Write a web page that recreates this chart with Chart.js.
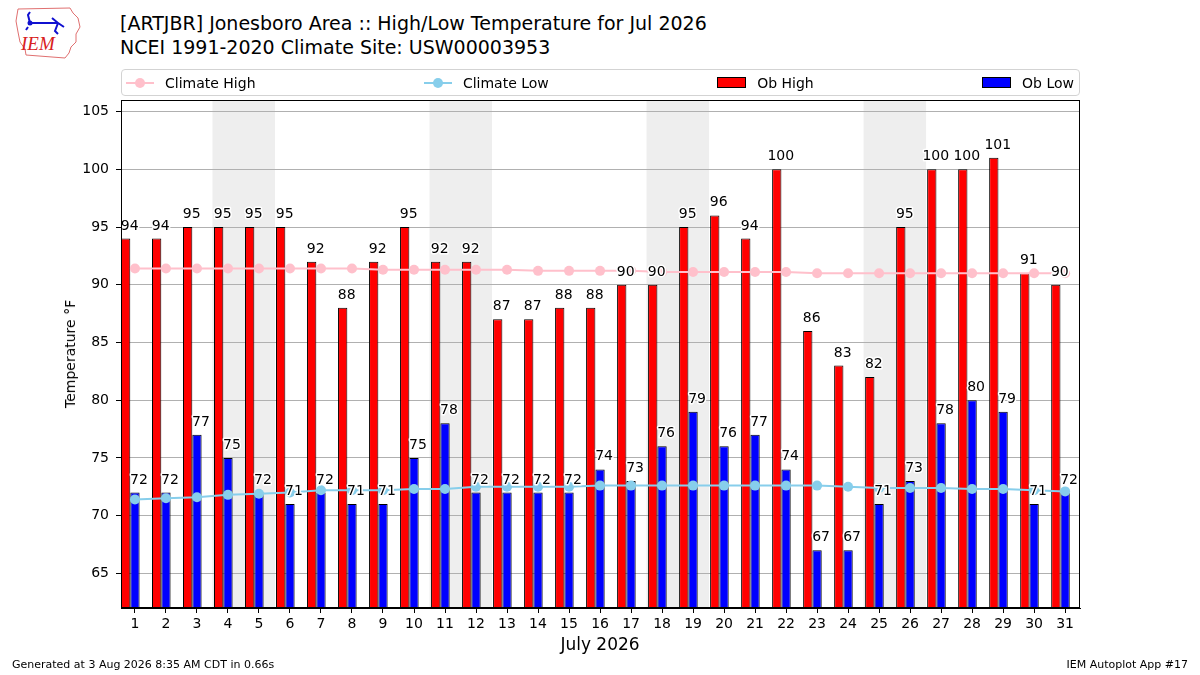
<!DOCTYPE html>
<html>
<head>
<meta charset="utf-8">
<script src="https://cdn.jsdelivr.net/npm/chart.js@4.4.1/dist/chart.umd.min.js"></script>
<style>
  body { margin: 0; width: 1200px; height: 675px; position: relative; background: #fff; overflow: hidden;
         font-family: "DejaVu Sans", sans-serif; color: #000; }
  #wrap { position: absolute; left: 0; top: 0; width: 1200px; height: 675px; }
  .title { position: absolute; left: 120px; font-size: 19px; white-space: nowrap; line-height: 23px; }
  #legend { position: absolute; left: 121px; top: 69px; width: 959px; height: 27px; box-sizing: border-box;
            border: 1px solid #d3d3d3; border-radius: 4px; display: flex; align-items: center;
            justify-content: space-between; padding: 0 5px 0 4px; font-size: 14px; }
  .item { display: flex; align-items: center; white-space: nowrap; }
  .lmark { position: relative; width: 28px; height: 12px; margin-right: 11px; }
  .lmark .ln { position: absolute; left: 0; right: 0; top: 5px; height: 2px; }
  .lmark .dot { position: absolute; left: 9px; top: 1px; width: 10px; height: 10px; border-radius: 50%; }
  .patch { width: 27px; height: 9px; border: 1px solid #000; margin-right: 11px; }
  #ytitle { position: absolute; left: 70px; top: 354px; font-size: 14px; white-space: nowrap;
            transform: translate(-50%, -50%) rotate(-90deg); }
  #xtitle { position: absolute; left: 600px; top: 644px; font-size: 17px; transform: translate(-50%, -50%); }
  .foot { position: absolute; top: 658px; font-size: 11px; white-space: nowrap; }
</style>
</head>
<body>
<svg style="position:absolute;left:6px;top:3px" width="80" height="60">
  <path d="M12 6 L64 5 L67 10 L72 15 L74 24 L70 31 L70 39 L65 44 L63 50 L59 55 L20 52 L19 46 L14 39 L12 29 L10 18 Z"
        fill="none" stroke="#e07070" stroke-width="1"/>
  <path d="M24 20 L52 20 L58 24 M24 20 L22 12 L24 9 M46 15 L52 20 L49 28 L52 31 M22 24 L20 27" fill="none"
        stroke="#1010d0" stroke-width="2"/>
  <circle cx="24" cy="20" r="2.5" fill="#1010d0"/>
  <text x="15" y="47" font-family="Liberation Serif" font-style="italic" font-size="19" fill="#d82020">IEM</text>
</svg>
<div class="title" style="top:12px">[ARTJBR] Jonesboro Area :: High/Low Temperature for Jul 2026</div>
<div class="title" style="top:36px">NCEI 1991-2020 Climate Site: USW00003953</div>
<div id="wrap"><canvas id="chart" width="1200" height="675"></canvas></div>
<div id="legend">
  <div class="item"><span class="lmark"><span class="ln" style="background:#ffc0cb"></span><span class="dot" style="background:#ffc0cb"></span></span>Climate High</div>
  <div class="item"><span class="lmark"><span class="ln" style="background:#87ceeb"></span><span class="dot" style="background:#87ceeb"></span></span>Climate Low</div>
  <div class="item"><span class="patch" style="background:#ff0000"></span>Ob High</div>
  <div class="item"><span class="patch" style="background:#0000ff"></span>Ob Low</div>
</div>
<div id="ytitle">Temperature °F</div>
<div id="xtitle">July 2026</div>
<div class="foot" style="left:12px">Generated at 3 Aug 2026 8:35 AM CDT in 0.66s</div>
<div class="foot" style="right:12px">IEM Autoplot App #17</div>

<script>
const days = [1,2,3,4,5,6,7,8,9,10,11,12,13,14,15,16,17,18,19,20,21,22,23,24,25,26,27,28,29,30,31];
const obHigh = [94,94,95,95,95,95,92,88,92,95,92,92,87,87,88,88,90,90,95,96,94,100,86,83,82,95,100,100,101,91,90];
const obLow = [72,72,77,75,72,71,72,71,71,75,78,72,72,72,72,74,73,76,79,76,77,74,67,67,71,73,78,80,79,71,72];
const climateHigh = [91.4,91.4,91.4,91.4,91.4,91.4,91.4,91.4,91.3,91.3,91.3,91.3,91.3,91.2,91.2,91.2,
                     91.2,91.1,91.1,91.1,91.1,91.1,91.0,91.0,91.0,91.0,91.0,91.0,91.0,91.0,91.0];
const climateLow = [71.4,71.5,71.6,71.8,71.9,72.0,72.2,72.2,72.2,72.3,72.3,72.5,72.5,72.5,72.5,72.6,
                    72.6,72.6,72.6,72.6,72.6,72.6,72.6,72.5,72.4,72.4,72.4,72.3,72.3,72.2,72.1];
const yTicks = [65,70,75,80,85,90,95,100,105];

// bar pair sits a bit left of the day tick, like the original
const barShift = 0.15;
const weekendDays = days.filter(d => [0, 6].includes(new Date(2026, 6, d).getDay()));

const shading = {
  id: 'shading',
  beforeDraw(chart) {
    const {ctx, chartArea: a, scales: {x}} = chart;
    ctx.save();
    ctx.fillStyle = '#eeeeee';
    weekendDays.forEach(d => {
      const x0 = x.getPixelForValue(d - 0.5), x1 = x.getPixelForValue(d + 0.5);
      ctx.fillRect(x0, a.top, x1 - x0 + 0.5, a.bottom - a.top);
    });
    ctx.restore();
  }
};

const barLabels = {
  id: 'barLabels',
  afterDatasetsDraw(chart) {
    const ctx = chart.ctx;
    ctx.save();
    ctx.font = '14px "DejaVu Sans"';
    ctx.textAlign = 'center';
    ctx.textBaseline = 'alphabetic';
    ctx.lineJoin = 'round';
    [2, 3].forEach(di => {
      const ds = chart.data.datasets[di];
      chart.getDatasetMeta(di).data.forEach((bar, i) => {
        const txt = String(ds.data[i].y);
        const tx = bar.x + 4, ty = bar.y - 9;
        ctx.strokeStyle = '#fff';
        ctx.lineWidth = 3;
        ctx.strokeText(txt, tx, ty);
        ctx.fillStyle = '#000';
        ctx.fillText(txt, tx, ty);
      });
    });
    ctx.restore();
  },
  afterDraw(chart) {
    const {ctx, chartArea: a} = chart;
    ctx.save();
    ctx.strokeStyle = '#000';
    ctx.lineWidth = 1;
    ctx.strokeRect(Math.round(a.left) + 0.5, Math.round(a.top) + 0.5,
                   Math.round(a.right - a.left) - 1, Math.round(a.bottom - a.top) - 1);
    ctx.restore();
  }
};

new Chart(document.getElementById('chart'), {
  data: {
    datasets: [
      { type: 'line', label: 'Climate High', data: days.map((d, i) => ({x: d, y: climateHigh[i]})),
        borderColor: '#ffc0cb', backgroundColor: '#ffc0cb', borderWidth: 2, pointRadius: 5,
        pointBorderWidth: 0, order: 0 },
      { type: 'line', label: 'Climate Low', data: days.map((d, i) => ({x: d, y: climateLow[i]})),
        borderColor: '#87ceeb', backgroundColor: '#87ceeb', borderWidth: 2, pointRadius: 5,
        pointBorderWidth: 0, order: 0 },
      { type: 'bar', label: 'Ob High', data: days.map((d, i) => ({x: d - barShift, y: obHigh[i]})),
        backgroundColor: '#ff0000', borderColor: '#000', borderWidth: 1, borderSkipped: false,
        categoryPercentage: 0.6, barPercentage: 1, order: 1 },
      { type: 'bar', label: 'Ob Low', data: days.map((d, i) => ({x: d - barShift, y: obLow[i]})),
        backgroundColor: '#0000ff', borderColor: '#000', borderWidth: 1, borderSkipped: false,
        categoryPercentage: 0.6, barPercentage: 1, order: 1 }
    ]
  },
  options: {
    responsive: false,
    animation: false,
    devicePixelRatio: 1,
    layout: { padding: { top: 100, right: 120, left: 0, bottom: 0 } },
    plugins: { legend: { display: false }, tooltip: { enabled: false } },
    scales: {
      x: {
        type: 'linear', min: 0.55, max: 31.48, offset: false,
        afterFit: s => { s.height = 67; },
        afterBuildTicks: s => { s.ticks = days.map(v => ({value: v})); },
        grid: { drawOnChartArea: false, tickColor: '#000', tickLength: 5, offset: false },
        border: { color: '#000' },
        ticks: { stepSize: 1, autoSkip: false, maxRotation: 0,
                 padding: 3, color: '#000', font: { family: 'DejaVu Sans', size: 14 } }
      },
      y: {
        min: 62, max: 106,
        afterFit: s => { s.width = 121; },
        afterBuildTicks: s => { s.ticks = yTicks.map(v => ({value: v})); },
        grid: { color: '#b0b0b0', tickColor: '#000', tickLength: 5 },
        border: { color: '#000' },
        ticks: { padding: 7, color: '#000', font: { family: 'DejaVu Sans', size: 14 } }
      }
    }
  },
  plugins: [shading, barLabels]
});
</script>
</body>
</html>
